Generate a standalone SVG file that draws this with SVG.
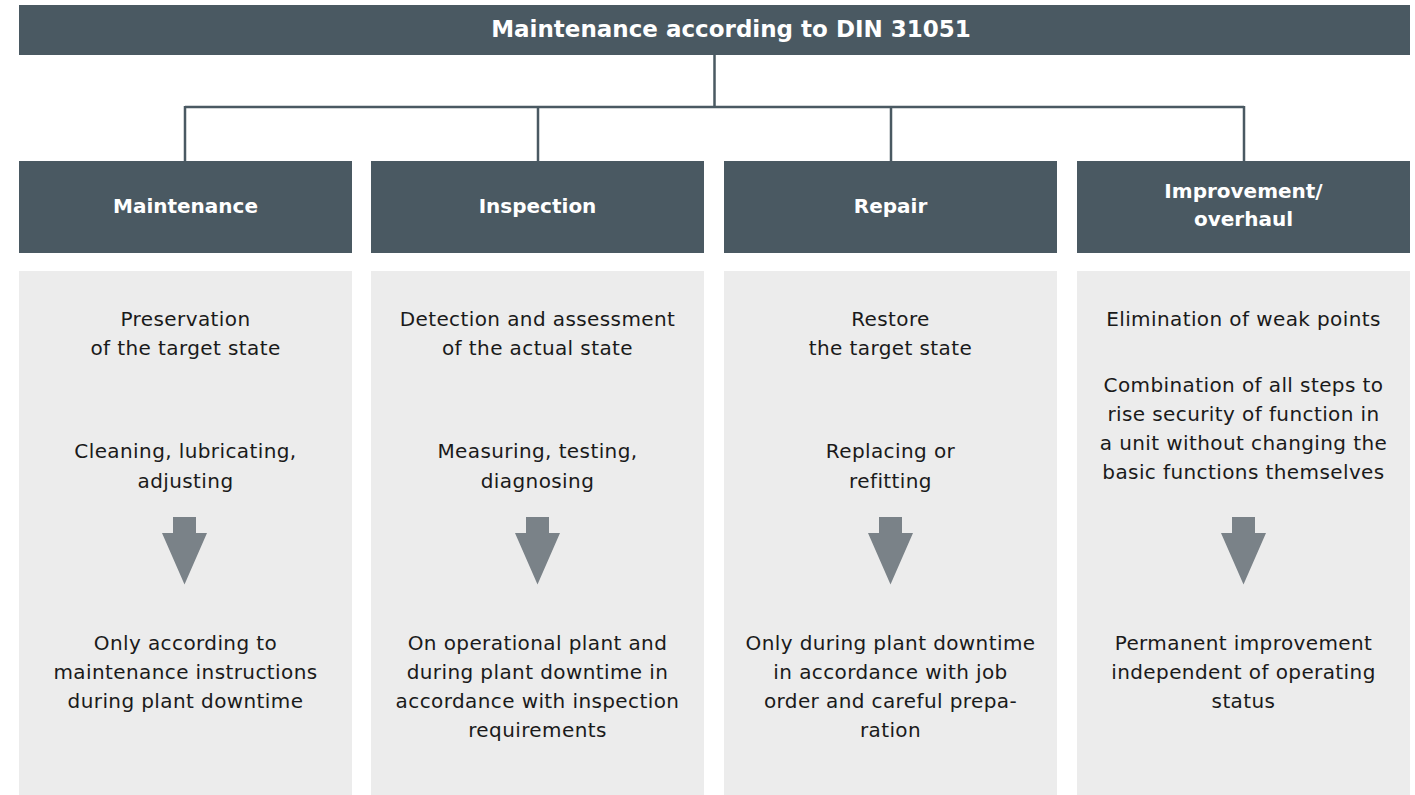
<svg xmlns="http://www.w3.org/2000/svg" width="1415" height="795" viewBox="0 0 1415 795">
<style>
.hdr{fill:#4a5962}
.body{fill:#ececec}
.ht{font-family:"DejaVu Sans",sans-serif;font-weight:bold;font-size:20px;fill:#ffffff;text-anchor:middle}
.tt{font-family:"DejaVu Sans",sans-serif;font-weight:bold;font-size:23px;fill:#ffffff;text-anchor:middle}
.bt{font-family:"DejaVu Sans",sans-serif;font-size:20px;fill:#1a1a1a;text-anchor:middle;letter-spacing:0.4px}
.arr{fill:#7a8288}
.con{stroke:#4a5962;stroke-width:2.5;fill:none}
</style>
<rect width="1415" height="795" fill="#ffffff"/>
<g id="connectors">
<path class="con" d="M714.5,55 V107 M185,107 H1244 M185,106 V161 M538,106 V161 M891,106 V161 M1244,106 V161"/>
</g>
<g id="title">
<rect class="hdr" x="19" y="5" width="1391" height="50"/>
<text class="tt" x="731" y="37">Maintenance according to DIN 31051</text>
</g>
<g id="maintenance">
<rect class="hdr" x="19" y="161" width="333" height="92"/>
<text class="ht" x="185.5" y="213">Maintenance</text>
<rect class="body" x="19" y="271" width="333" height="524"/>
<text class="bt" x="185.5" y="326">Preservation</text>
<text class="bt" x="185.5" y="355">of the target state</text>
<text class="bt" x="185.5" y="458">Cleaning, lubricating,</text>
<text class="bt" x="185.5" y="487.5">adjusting</text>
<polygon class="arr" points="173,517 196,517 196,533 207,533 184.5,584.5 162,533 173,533"/>
<text class="bt" x="185.5" y="650">Only according to</text>
<text class="bt" x="185.5" y="679">maintenance instructions</text>
<text class="bt" x="185.5" y="708">during plant downtime</text>
</g>
<g id="inspection">
<rect class="hdr" x="371" y="161" width="333" height="92"/>
<text class="ht" x="537.5" y="213">Inspection</text>
<rect class="body" x="371" y="271" width="333" height="524"/>
<text class="bt" x="537.5" y="326">Detection and assessment</text>
<text class="bt" x="537.5" y="355">of the actual state</text>
<text class="bt" x="537.5" y="458">Measuring, testing,</text>
<text class="bt" x="537.5" y="487.5">diagnosing</text>
<polygon class="arr" points="526,517 549,517 549,533 560,533 537.5,584.5 515,533 526,533"/>
<text class="bt" x="537.5" y="650">On operational plant and</text>
<text class="bt" x="537.5" y="679">during plant downtime in</text>
<text class="bt" x="537.5" y="708">accordance with inspection</text>
<text class="bt" x="537.5" y="737">requirements</text>
</g>
<g id="repair">
<rect class="hdr" x="724" y="161" width="333" height="92"/>
<text class="ht" x="890.5" y="213">Repair</text>
<rect class="body" x="724" y="271" width="333" height="524"/>
<text class="bt" x="890.5" y="326">Restore</text>
<text class="bt" x="890.5" y="355">the target state</text>
<text class="bt" x="890.5" y="458">Replacing or</text>
<text class="bt" x="890.5" y="487.5">refitting</text>
<polygon class="arr" points="879,517 902,517 902,533 913,533 890.5,584.5 868,533 879,533"/>
<text class="bt" x="890.5" y="650">Only during plant downtime</text>
<text class="bt" x="890.5" y="679">in accordance with job</text>
<text class="bt" x="890.5" y="708">order and careful prepa-</text>
<text class="bt" x="890.5" y="737">ration</text>
</g>
<g id="improvement">
<rect class="hdr" x="1077" y="161" width="333" height="92"/>
<text class="ht" x="1243.5" y="198">Improvement/</text>
<text class="ht" x="1243.5" y="226">overhaul</text>
<rect class="body" x="1077" y="271" width="333" height="524"/>
<text class="bt" x="1243.5" y="326">Elimination of weak points</text>
<text class="bt" x="1243.5" y="392">Combination of all steps to</text>
<text class="bt" x="1243.5" y="421">rise security of function in</text>
<text class="bt" x="1243.5" y="450">a unit without changing the</text>
<text class="bt" x="1243.5" y="479">basic functions themselves</text>
<polygon class="arr" points="1232,517 1255,517 1255,533 1266,533 1243.5,584.5 1221,533 1232,533"/>
<text class="bt" x="1243.5" y="650">Permanent improvement</text>
<text class="bt" x="1243.5" y="679">independent of operating</text>
<text class="bt" x="1243.5" y="708">status</text>
</g>
</svg>
